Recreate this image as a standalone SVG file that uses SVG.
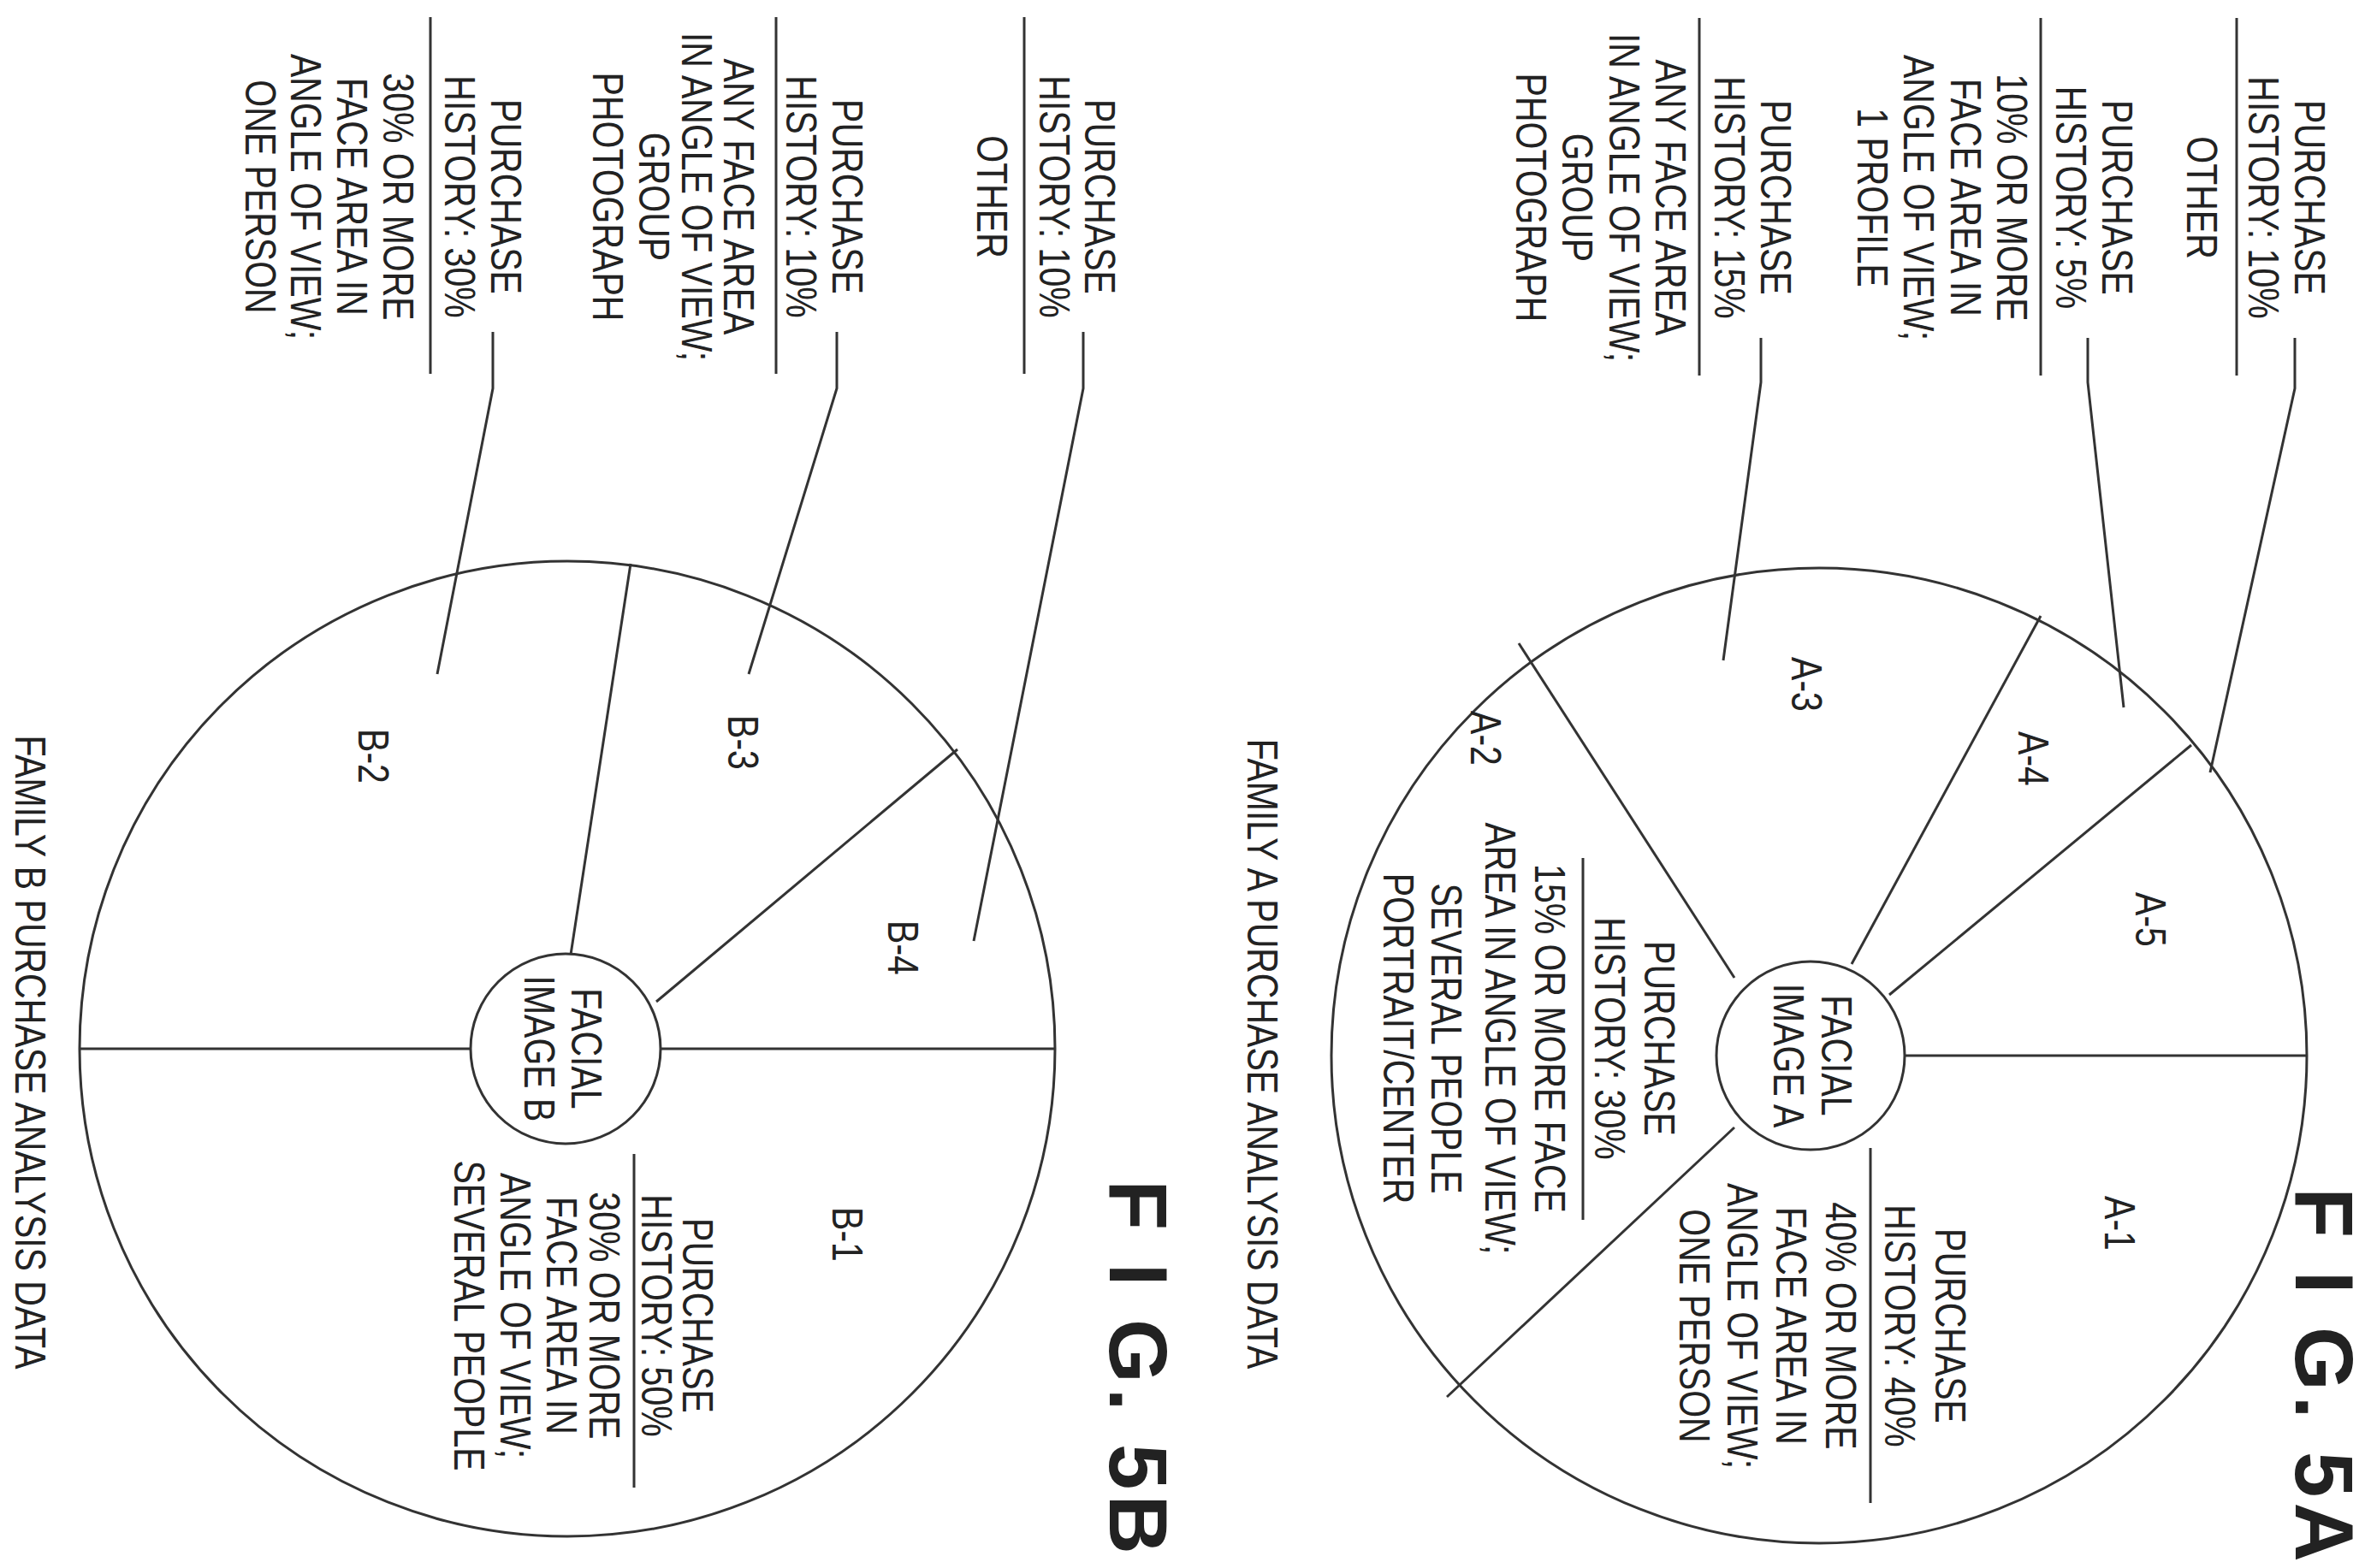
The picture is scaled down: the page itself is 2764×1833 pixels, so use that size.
<svg xmlns="http://www.w3.org/2000/svg" width="2764" height="1833" viewBox="0 0 2764 1833">
<style>
.t{font-family:"Liberation Sans",Arial,sans-serif;font-size:50px;fill:#222;text-anchor:middle;dominant-baseline:central}
.f{font-family:"Liberation Sans",Arial,sans-serif;font-size:96px;font-weight:bold;fill:#222;text-anchor:middle;dominant-baseline:central;letter-spacing:6px}
.s{fill:none;stroke:#333;stroke-width:3}
</style>
<rect width="2764" height="1833" fill="#fff"/>
<g id="pieA">
<circle class="s" cx="2126" cy="1234" r="570"/>
<g class="s">
<line x1="2226" y1="1234" x2="2696" y2="1234"/>
<line x1="2208" y1="1163" x2="2561" y2="871"/>
<line x1="2164" y1="1127" x2="2385" y2="720"/>
<line x1="2027" y1="1143" x2="1775" y2="752"/>
<line x1="2027" y1="1318" x2="1691" y2="1633"/>
<line x1="2186" y1="1342" x2="2186" y2="1757"/>
<line x1="1850" y1="1003" x2="1850" y2="1426"/>
</g>
<text class="t" transform="translate(2477 1430) rotate(90) scale(0.82 1)">A-1</text>
<text class="t" transform="translate(1736 863) rotate(90) scale(0.82 1)">A-2</text>
<text class="t" transform="translate(2111 800) rotate(90) scale(0.82 1)">A-3</text>
<text class="t" transform="translate(2376 887) rotate(90) scale(0.82 1)">A-4</text>
<text class="t" transform="translate(2513 1075) rotate(90) scale(0.82 1)">A-5</text>
<text class="t" transform="translate(2279 1550) rotate(90) scale(0.82 1)">PURCHASE</text>
<text class="t" transform="translate(2220 1550) rotate(90) scale(0.82 1)">HISTORY: 40%</text>
<text class="t" transform="translate(2151 1550) rotate(90) scale(0.82 1)">40% OR MORE</text>
<text class="t" transform="translate(2093 1550) rotate(90) scale(0.82 1)">FACE AREA IN</text>
<text class="t" transform="translate(2036 1550) rotate(90) scale(0.82 1)">ANGLE OF VIEW;</text>
<text class="t" transform="translate(1980 1550) rotate(90) scale(0.82 1)">ONE PERSON</text>
<text class="t" transform="translate(1939 1214) rotate(90) scale(0.82 1)">PURCHASE</text>
<text class="t" transform="translate(1881 1214) rotate(90) scale(0.82 1)">HISTORY: 30%</text>
<text class="t" transform="translate(1811 1214) rotate(90) scale(0.82 1)">15% OR MORE FACE</text>
<text class="t" transform="translate(1753 1214) rotate(90) scale(0.82 1)">AREA IN ANGLE OF VIEW;</text>
<text class="t" transform="translate(1690 1214) rotate(90) scale(0.82 1)">SEVERAL PEOPLE</text>
<text class="t" transform="translate(1634 1214) rotate(90) scale(0.82 1)">PORTRAIT/CENTER</text>
</g>
<g id="faceA">
<circle class="s" cx="2116" cy="1234" r="110"/>
<text class="t" transform="translate(2146 1234) rotate(90) scale(0.82 1)">FACIAL</text>
<text class="t" transform="translate(2090 1234) rotate(90) scale(0.82 1)">IMAGE A</text>
</g>
<g id="calloutA1">
<text class="t" transform="translate(2699 231) rotate(90) scale(0.82 1)">PURCHASE</text>
<text class="t" transform="translate(2645 231) rotate(90) scale(0.82 1)">HISTORY: 10%</text>
<text class="t" transform="translate(2573 231) rotate(90) scale(0.82 1)">OTHER</text>
<line class="s" x1="2614" y1="21" x2="2614" y2="439"/>
</g>
<g id="calloutA2">
<text class="t" transform="translate(2474 231) rotate(90) scale(0.82 1)">PURCHASE</text>
<text class="t" transform="translate(2420 231) rotate(90) scale(0.82 1)">HISTORY: 5%</text>
<text class="t" transform="translate(2351 231) rotate(90) scale(0.82 1)">10% OR MORE</text>
<text class="t" transform="translate(2297 231) rotate(90) scale(0.82 1)">FACE AREA IN</text>
<text class="t" transform="translate(2242 231) rotate(90) scale(0.82 1)">ANGLE OF VIEW;</text>
<text class="t" transform="translate(2188 231) rotate(90) scale(0.82 1)">1 PROFILE</text>
<line class="s" x1="2385" y1="21" x2="2385" y2="439"/>
</g>
<g id="calloutA3">
<text class="t" transform="translate(2075 231) rotate(90) scale(0.82 1)">PURCHASE</text>
<text class="t" transform="translate(2021 231) rotate(90) scale(0.82 1)">HISTORY: 15%</text>
<text class="t" transform="translate(1952 231) rotate(90) scale(0.82 1)">ANY FACE AREA</text>
<text class="t" transform="translate(1898 231) rotate(90) scale(0.82 1)">IN ANGLE OF VIEW;</text>
<text class="t" transform="translate(1843 231) rotate(90) scale(0.82 1)">GROUP</text>
<text class="t" transform="translate(1789 231) rotate(90) scale(0.82 1)">PHOTOGRAPH</text>
<line class="s" x1="1986" y1="21" x2="1986" y2="439"/>
</g>
<g id="titleA">
<text class="f" transform="translate(2716 1610) rotate(90)">F I G. 5A</text>
<text class="t" transform="translate(1475 1232) rotate(90) scale(0.82 1)">FAMILY A PURCHASE ANALYSIS DATA</text>
</g>
<g id="pieB">
<circle class="s" cx="663" cy="1226" r="570"/>
<g class="s">
<line x1="93" y1="1226" x2="551" y2="1226"/>
<line x1="772" y1="1226" x2="1233" y2="1226"/>
<line x1="767" y1="1171" x2="1119" y2="876"/>
<line x1="667" y1="1116" x2="737" y2="659"/>
<line x1="741" y1="1349" x2="741" y2="1739"/>
</g>
<text class="t" transform="translate(990 1443) rotate(90) scale(0.82 1)">B-1</text>
<text class="t" transform="translate(436 884) rotate(90) scale(0.82 1)">B-2</text>
<text class="t" transform="translate(868 868) rotate(90) scale(0.82 1)">B-3</text>
<text class="t" transform="translate(1055 1108) rotate(90) scale(0.82 1)">B-4</text>
<text class="t" transform="translate(815 1538) rotate(90) scale(0.82 1)">PURCHASE</text>
<text class="t" transform="translate(767 1538) rotate(90) scale(0.82 1)">HISTORY: 50%</text>
<text class="t" transform="translate(706 1538) rotate(90) scale(0.82 1)">30% OR MORE</text>
<text class="t" transform="translate(656 1538) rotate(90) scale(0.82 1)">FACE AREA IN</text>
<text class="t" transform="translate(602 1538) rotate(90) scale(0.82 1)">ANGLE OF VIEW;</text>
<text class="t" transform="translate(548 1538) rotate(90) scale(0.82 1)">SEVERAL PEOPLE</text>
</g>
<g id="faceB">
<circle class="s" cx="661" cy="1226" r="111"/>
<text class="t" transform="translate(685 1226) rotate(90) scale(0.82 1)">FACIAL</text>
<text class="t" transform="translate(630 1226) rotate(90) scale(0.82 1)">IMAGE B</text>
</g>
<g id="calloutB1">
<text class="t" transform="translate(1285 230) rotate(90) scale(0.82 1)">PURCHASE</text>
<text class="t" transform="translate(1232 230) rotate(90) scale(0.82 1)">HISTORY: 10%</text>
<text class="t" transform="translate(1159 230) rotate(90) scale(0.82 1)">OTHER</text>
<line class="s" x1="1197" y1="20" x2="1197" y2="437"/>
</g>
<g id="calloutB2">
<text class="t" transform="translate(990 230) rotate(90) scale(0.82 1)">PURCHASE</text>
<text class="t" transform="translate(936 230) rotate(90) scale(0.82 1)">HISTORY: 10%</text>
<text class="t" transform="translate(863 230) rotate(90) scale(0.82 1)">ANY FACE AREA</text>
<text class="t" transform="translate(814 230) rotate(90) scale(0.82 1)">IN ANGLE OF VIEW;</text>
<text class="t" transform="translate(764 230) rotate(90) scale(0.82 1)">GROUP</text>
<text class="t" transform="translate(710 230) rotate(90) scale(0.82 1)">PHOTOGRAPH</text>
<line class="s" x1="907" y1="20" x2="907" y2="437"/>
</g>
<g id="calloutB3">
<text class="t" transform="translate(591 230) rotate(90) scale(0.82 1)">PURCHASE</text>
<text class="t" transform="translate(537 230) rotate(90) scale(0.82 1)">HISTORY: 30%</text>
<text class="t" transform="translate(465 230) rotate(90) scale(0.82 1)">30% OR MORE</text>
<text class="t" transform="translate(411 230) rotate(90) scale(0.82 1)">FACE AREA IN</text>
<text class="t" transform="translate(357 230) rotate(90) scale(0.82 1)">ANGLE OF VIEW;</text>
<text class="t" transform="translate(304 230) rotate(90) scale(0.82 1)">ONE PERSON</text>
<line class="s" x1="503" y1="20" x2="503" y2="437"/>
</g>
<g id="titleB">
<text class="f" transform="translate(1330 1601) rotate(90)">F I G. 5B</text>
<text class="t" transform="translate(35 1230) rotate(90) scale(0.82 1)">FAMILY B PURCHASE ANALYSIS DATA</text>
</g>
<g id="connectors" class="s">
<path d="M2682 395 V454 L2583 903"/>
<path d="M2440 395 V447 L2482 827"/>
<path d="M2058 395 V447 L2014 772"/>
<path d="M1266 388 V454 L1138 1100"/>
<path d="M978 388 V454 L875 788"/>
<path d="M576 388 V454 L511 788"/>
</g>
</svg>
